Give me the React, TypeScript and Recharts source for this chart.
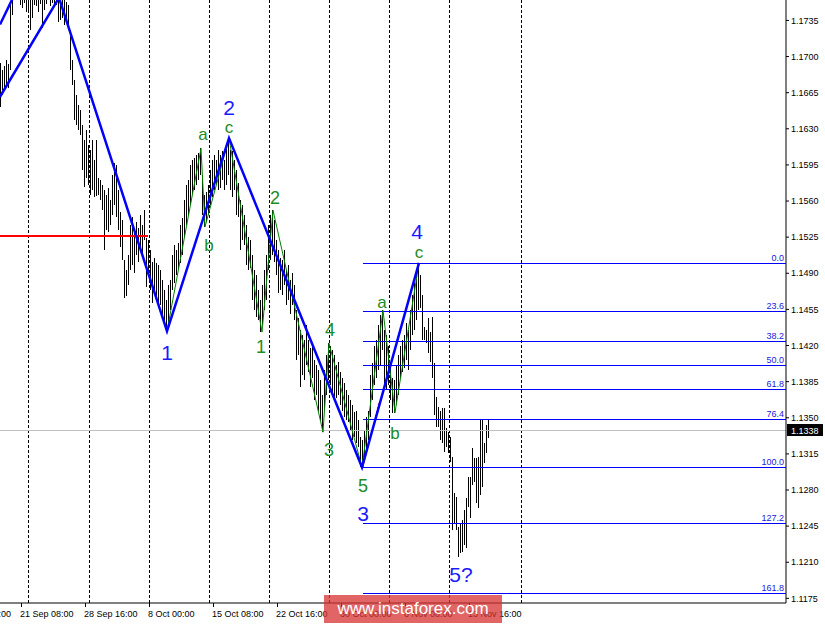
import React from 'react';
import { ComposedChart, Bar, Line, XAxis, YAxis, ReferenceLine, ReferenceDot } from 'recharts';

// H4 bars (one per bar index 0..244): highs and lows
const HIGH = [
  1.1694, 1.1687, 1.1691, 1.1697, 1.1693, 1.1753, 1.1764, 1.1779, 1.1784, 1.1774,
  1.1769, 1.1766, 1.1772, 1.1764, 1.1768, 1.1762, 1.1766, 1.1774, 1.1779, 1.1772,
  1.1776, 1.1769, 1.1774, 1.1779, 1.1784, 1.1776, 1.1782, 1.1774, 1.1769, 1.1760,
  1.1762, 1.1759, 1.1761, 1.1753, 1.1750, 1.1726, 1.1697, 1.1677, 1.1663, 1.1653,
  1.1648, 1.1634, 1.1619, 1.1629, 1.1614, 1.1609, 1.1619, 1.1600, 1.1619, 1.1582,
  1.1580, 1.1576, 1.1571, 1.1566, 1.1573, 1.1561, 1.1585, 1.1597, 1.1595, 1.1571,
  1.1549, 1.1542, 1.1503, 1.1493, 1.1508, 1.1537, 1.1545, 1.1532, 1.1540, 1.1534,
  1.1546, 1.1537, 1.1551, 1.1524, 1.1522, 1.1513, 1.1501, 1.1505, 1.1500, 1.1498,
  1.1493, 1.1483, 1.1474, 1.1464, 1.1479, 1.1483, 1.1508, 1.1517, 1.1513, 1.1519,
  1.1537, 1.1544, 1.1561, 1.1576, 1.1580, 1.1595, 1.1600, 1.1602, 1.1605, 1.1607,
  1.1611, 1.1585, 1.1566, 1.1569, 1.1576, 1.1590, 1.1600, 1.1605, 1.1600, 1.1609,
  1.1605, 1.1608, 1.1600, 1.1611, 1.1621, 1.1609, 1.1608, 1.1600, 1.1590, 1.1577,
  1.1561, 1.1556, 1.1546, 1.1537, 1.1525, 1.1522, 1.1508, 1.1493, 1.1488, 1.1474,
  1.1464, 1.1479, 1.1493, 1.1508, 1.1537, 1.1546, 1.1551, 1.1542, 1.1522, 1.1513,
  1.1505, 1.1503, 1.1513, 1.1493, 1.1498, 1.1483, 1.1490, 1.1479, 1.1454, 1.1447,
  1.1435, 1.1430, 1.1425, 1.1440, 1.1425, 1.1418, 1.1420, 1.1406, 1.1401, 1.1396,
  1.1387, 1.1372, 1.1396, 1.1411, 1.1422, 1.1420, 1.1416, 1.1411, 1.1401, 1.1404,
  1.1394, 1.1389, 1.1384, 1.1377, 1.1372, 1.1367, 1.1362, 1.1356, 1.1357, 1.1348,
  1.1331, 1.1328, 1.1338, 1.1351, 1.1357, 1.1391, 1.1403, 1.1420, 1.1425, 1.1440,
  1.1450, 1.1454, 1.1435, 1.1430, 1.1420, 1.1401, 1.1389, 1.1387, 1.1401, 1.1411,
  1.1420, 1.1425, 1.1430, 1.1442, 1.1435, 1.1454, 1.1469, 1.1481, 1.1493, 1.1500,
  1.1488, 1.1469, 1.1438, 1.1435, 1.1447, 1.1433, 1.1448, 1.1403, 1.1370, 1.1360,
  1.1357, 1.1359, 1.1359, 1.1340, 1.1336, 1.1331, 1.1312, 1.1277, 1.1273, 1.1244,
  1.1248, 1.1251, 1.1261, 1.1272, 1.1293, 1.1293, 1.1321, 1.1311, 1.1311, 1.1312,
  1.1348, 1.1348, 1.1326, 1.1343, 1.1348,
];

const LOW = [
  1.1651, 1.1663, 1.1668, 1.1671, 1.1670, 1.1687, 1.1740, 1.1758, 1.1760, 1.1757,
  1.1750, 1.1747, 1.1752, 1.1743, 1.1745, 1.1726, 1.1737, 1.1750, 1.1749, 1.1743,
  1.1751, 1.1728, 1.1745, 1.1751, 1.1757, 1.1749, 1.1752, 1.1748, 1.1750, 1.1733,
  1.1735, 1.1737, 1.1731, 1.1733, 1.1726, 1.1687, 1.1672, 1.1639, 1.1634, 1.1629,
  1.1624, 1.1590, 1.1574, 1.1582, 1.1576, 1.1566, 1.1571, 1.1564, 1.1565, 1.1566,
  1.1561, 1.1551, 1.1513, 1.1532, 1.1530, 1.1537, 1.1546, 1.1556, 1.1545, 1.1532,
  1.1515, 1.1503, 1.1466, 1.1468, 1.1479, 1.1493, 1.1498, 1.1490, 1.1508, 1.1501,
  1.1513, 1.1505, 1.1522, 1.1477, 1.1488, 1.1474, 1.1461, 1.1469, 1.1464, 1.1456,
  1.1459, 1.1450, 1.1440, 1.1433, 1.1442, 1.1454, 1.1474, 1.1481, 1.1488, 1.1493,
  1.1500, 1.1508, 1.1524, 1.1537, 1.1546, 1.1556, 1.1566, 1.1571, 1.1576, 1.1580,
  1.1585, 1.1546, 1.1535, 1.1540, 1.1546, 1.1556, 1.1564, 1.1571, 1.1576, 1.1571,
  1.1573, 1.1580, 1.1571, 1.1576, 1.1585, 1.1571, 1.1564, 1.1571, 1.1546, 1.1545,
  1.1513, 1.1522, 1.1517, 1.1498, 1.1493, 1.1495, 1.1464, 1.1454, 1.1448, 1.1445,
  1.1433, 1.1440, 1.1454, 1.1464, 1.1493, 1.1503, 1.1508, 1.1501, 1.1488, 1.1471,
  1.1474, 1.1469, 1.1479, 1.1459, 1.1464, 1.1451, 1.1459, 1.1445, 1.1406, 1.1411,
  1.1380, 1.1391, 1.1387, 1.1401, 1.1394, 1.1380, 1.1389, 1.1367, 1.1372, 1.1357,
  1.1348, 1.1336, 1.1357, 1.1372, 1.1387, 1.1382, 1.1375, 1.1367, 1.1369, 1.1372,
  1.1362, 1.1357, 1.1351, 1.1348, 1.1346, 1.1338, 1.1328, 1.1331, 1.1326, 1.1322,
  1.1302, 1.1304, 1.1312, 1.1319, 1.1328, 1.1351, 1.1367, 1.1382, 1.1389, 1.1396,
  1.1401, 1.1416, 1.1382, 1.1377, 1.1382, 1.1367, 1.1355, 1.1355, 1.1362, 1.1372,
  1.1389, 1.1394, 1.1398, 1.1406, 1.1396, 1.1416, 1.1430, 1.1435, 1.1445, 1.1454,
  1.1456, 1.1425, 1.1425, 1.1422, 1.1413, 1.1404, 1.1389, 1.1353, 1.1341, 1.1341,
  1.1328, 1.1326, 1.1317, 1.1322, 1.1316, 1.1307, 1.1241, 1.1248, 1.1241, 1.1215,
  1.1219, 1.1220, 1.1227, 1.1224, 1.1264, 1.1253, 1.1285, 1.1288, 1.1267, 1.1263,
  1.1275, 1.1283, 1.1306, 1.1316, 1.1330,
];

const CURRENT_PRICE = 1.1338;
const Y_TICKS = [
  1.1175, 1.121, 1.1245, 1.128, 1.1315, 1.135, 1.1385, 1.142, 1.1455,
  1.149, 1.1525, 1.156, 1.1595, 1.163, 1.1665, 1.17, 1.1735,
];
const X_LABELS = [
  { i: 0, label: '14 Sep 00:00' },
  { i: 10, label: '21 Sep 08:00' },
  { i: 42, label: '28 Sep 16:00' },
  { i: 74, label: '8 Oct 00:00' },
  { i: 106, label: '15 Oct 08:00' },
  { i: 138, label: '22 Oct 16:00' },
  { i: 170, label: '30 Oct 00:00' },
  { i: 202, label: '6 Nov 08:00' },
  { i: 234, label: '13 Nov 16:00' },
];
const GRID_BARS = [14, 44, 74, 104, 134, 164, 194, 224, 260];

// wave lines: [bar index, price]
const BLUE_PREV = [[-0.5, 1.1731], [10, 1.1773]];
const BLUE_WAVES = [[-0.5, 1.1661], [29, 1.1757], [83, 1.1434], [114, 1.1621], [180.5, 1.1302], [209, 1.15]];
const GREEN_W2 = [[83, 1.1434], [100, 1.1611], [102, 1.1535], [114, 1.1621]];
const GREEN_W3 = [[114, 1.1621], [130.5, 1.1433], [136, 1.1551], [161, 1.1336], [164, 1.1422], [180.5, 1.1302]];
const GREEN_W4 = [[180.5, 1.1302], [191, 1.1454], [197, 1.1355], [209, 1.15]];
const RED_TREND = [[181, 1.1302], [189, 1.1365]];

const RED_LEVEL = { from: -0.5, to: 73.5, price: 1.1526 };

const FIB_START = 181;
const FIB_LEVELS = [
  { label: '0.0', price: 1.15 },
  { label: '23.6', price: 1.1453 },
  { label: '38.2', price: 1.1424 },
  { label: '50.0', price: 1.1401 },
  { label: '61.8', price: 1.1378 },
  { label: '76.4', price: 1.1349 },
  { label: '100.0', price: 1.1302 },
  { label: '127.2', price: 1.1248 },
  { label: '161.8', price: 1.118 },
];

const BLUE_LABELS = [
  { t: '2', i: 114, p: 1.1651 },
  { t: '1', i: 83, p: 1.1413 },
  { t: '3', i: 181, p: 1.1257 },
  { t: '4', i: 208, p: 1.153 },
  { t: '5?', i: 230, p: 1.1198 },
];
const GREEN_LABELS = [
  { t: 'a', i: 101, p: 1.1624, s: 17 },
  { t: 'b', i: 104, p: 1.1517, s: 17 },
  { t: 'c', i: 114, p: 1.1631, s: 17 },
  { t: '1', i: 130, p: 1.1419, s: 18 },
  { t: '2', i: 137, p: 1.1563, s: 18 },
  { t: '3', i: 164, p: 1.1319, s: 18 },
  { t: '4', i: 164.5, p: 1.1435, s: 18 },
  { t: '5', i: 181, p: 1.1284, s: 18 },
  { t: 'a', i: 190.5, p: 1.1462, s: 17 },
  { t: 'b', i: 197, p: 1.1335, s: 17 },
  { t: 'c', i: 209, p: 1.151, s: 17 },
];

const BARS = HIGH.map((h, i) => ({ x: i, range: [LOW[i], h] }));
const toPts = (arr: number[][]) => arr.map(([x, p]) => ({ x, p }));

const FONT = '"Liberation Sans", Arial, sans-serif';
const BLUE = '#0000ff';
const GREEN = '#1e8c1e';

const OhlcShape = (props: any) => {
  const { x, y, width, height } = props;
  if (x == null || y == null || isNaN(y)) return null;
  const cx = Math.floor(x + width / 2);
  const a = Math.round(Math.min(y, y + height));
  const b = Math.round(Math.max(y, y + height));
  return <rect x={cx} y={a} width={1} height={Math.max(1, b - a)} fill="#000" />;
};

const hLine = (color: string, sw: number) => (p: any) => {
  const y = sw % 2 === 1 ? Math.round(p.y1) + 0.5 : Math.round(p.y1);
  return <line x1={p.x1} x2={p.x2} y1={y} y2={y} stroke={color} strokeWidth={sw} />;
};

const vLine = (color: string) => (p: any) => {
  const x = Math.floor(p.x1) + 0.5;
  return <line x1={x} x2={x} y1={p.y1} y2={p.y2} stroke={color} strokeWidth={1} strokeDasharray="3 2" />;
};

const XTick = (props: any) => {
  const { x, y, payload } = props;
  const item = X_LABELS.find((l) => l.i === payload.value);
  if (!item) return null;
  if (item.i === 0) {
    return (
      <text x={x + 10} y={y + 14} textAnchor="end" fontSize={9} fontFamily={FONT} fill="#000">
        {item.label}
      </text>
    );
  }
  const lx = Math.floor(x) + 0.5;
  return (
    <g>
      <line x1={lx} x2={lx} y1={y} y2={y + 4} stroke="#000" strokeWidth={1} />
      <text x={x - 1} y={y + 14} textAnchor="start" fontSize={9} fontFamily={FONT} fill="#000">
        {item.label}
      </text>
    </g>
  );
};

const fibLabel = (text: string) => (props: any) => {
  const vb = props.viewBox || {};
  return (
    <text x={vb.x + vb.width - 2} y={Math.round(vb.y) - 2} textAnchor="end" fontSize={9} fontFamily={FONT} fill="#2020e0">
      {text}
    </text>
  );
};

const PriceTag = (props: any) => {
  const vb = props.viewBox || {};
  const right = vb.x + vb.width;
  const cy = Math.round(vb.y);
  return (
    <g>
      <rect x={right + 1} y={cy - 6} width={36} height={12} fill="#000" />
      <text x={right + 5} y={cy + 3.5} fontSize={9} fontFamily={FONT} fill="#fff">
        {CURRENT_PRICE.toFixed(4)}
      </text>
    </g>
  );
};

const textShape = (t: string, color: string, size: number) => (p: any) => (
  <text x={p.cx} y={p.cy} textAnchor="middle" dominantBaseline="central" fontSize={size} fontFamily={FONT} fill={color}>
    {t}
  </text>
);

export default function App() {
  return (
    <div style={{ position: 'absolute', left: 0, top: 0, width: 825, height: 625, background: '#fff', overflow: 'hidden' }}>
      <ComposedChart width={825} height={625} data={BARS} margin={{ top: 0, right: 0, bottom: 0, left: 0 }}>
        <XAxis
          type="number"
          dataKey="x"
          domain={[-0.5, 392.5]}
          allowDataOverflow
          ticks={X_LABELS.map((l) => l.i)}
          interval={0}
          tickLine={false}
          tickSize={0}
          tickMargin={0}
          axisLine={{ stroke: '#000' }}
          height={22}
          tick={(p: any) => <XTick {...p} />}
        />
        <YAxis
          orientation="right"
          type="number"
          domain={[1.11705, 1.17548]}
          allowDataOverflow
          ticks={Y_TICKS}
          interval={0}
          width={39}
          tickSize={3}
          tickMargin={2}
          axisLine={{ stroke: '#000' }}
          tickLine={{ stroke: '#000' }}
          tick={{ fontSize: 9, fill: '#000', fontFamily: FONT }}
          tickFormatter={(v: number) => v.toFixed(4)}
        />
        {GRID_BARS.map((g) => (
          <ReferenceLine key={'g' + g} x={g} stroke="#000" shape={vLine('#000')} />
        ))}
        <ReferenceLine y={CURRENT_PRICE} stroke="#c0c0c0" shape={hLine('#c0c0c0', 1)} label={PriceTag} />
        <Bar dataKey="range" barSize={1} shape={OhlcShape} isAnimationActive={false} />
        <ReferenceLine
          segment={[{ x: RED_LEVEL.from, y: RED_LEVEL.price }, { x: RED_LEVEL.to, y: RED_LEVEL.price }]}
          stroke="#ff0000"
          strokeWidth={2}
          shape={hLine('#ff0000', 2)}
        />
        {FIB_LEVELS.map((f) => (
          <ReferenceLine
            key={f.label}
            segment={[{ x: FIB_START, y: f.price }, { x: 392.5, y: f.price }]}
            stroke={BLUE}
            strokeWidth={1}
            shape={hLine(BLUE, 1)}
            label={fibLabel(f.label)}
          />
        ))}
        <Line data={toPts(GREEN_W2)} dataKey="p" stroke="#008000" strokeWidth={1} dot={false} isAnimationActive={false} />
        <Line data={toPts(GREEN_W3)} dataKey="p" stroke="#008000" strokeWidth={1} dot={false} isAnimationActive={false} />
        <Line data={toPts(GREEN_W4)} dataKey="p" stroke="#008000" strokeWidth={1} dot={false} isAnimationActive={false} />
        <Line data={toPts(RED_TREND)} dataKey="p" stroke="#ff0000" strokeWidth={1} strokeDasharray="2 2" dot={false} isAnimationActive={false} />
        <Line data={toPts(BLUE_PREV)} dataKey="p" stroke={BLUE} strokeWidth={2.5} dot={false} isAnimationActive={false} />
        <Line data={toPts(BLUE_WAVES)} dataKey="p" stroke={BLUE} strokeWidth={2.5} dot={false} isAnimationActive={false} />
        {BLUE_LABELS.map((l, k) => (
          <ReferenceDot key={'bl' + k} x={l.i} y={l.p} r={0} shape={textShape(l.t, '#1a1aff', 21)} />
        ))}
        {GREEN_LABELS.map((l, k) => (
          <ReferenceDot key={'gl' + k} x={l.i} y={l.p} r={0} shape={textShape(l.t, GREEN, l.s)} />
        ))}
      </ComposedChart>
      <div
        style={{
          position: 'absolute',
          left: 324,
          top: 595,
          width: 178,
          height: 28,
          background: 'rgba(215, 50, 50, 0.75)',
          color: '#fff',
          fontFamily: FONT,
          fontSize: 17,
          display: 'flex',
          alignItems: 'center',
          justifyContent: 'center',
        }}
      >
        www.instaforex.com
      </div>
    </div>
  );
}
